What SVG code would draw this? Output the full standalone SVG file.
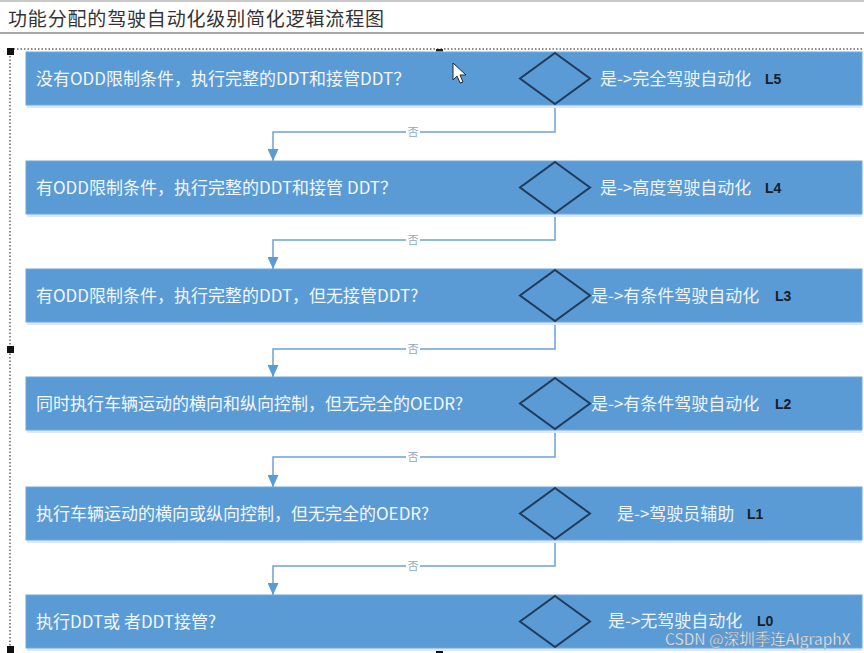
<svg xmlns="http://www.w3.org/2000/svg" width="864" height="653" viewBox="0 0 864 653">
<defs>
<style>
.bar{fill:#5b9bd5;stroke:#6fa8dc;stroke-width:1}
.sh{fill:#dce8f4}
.dia{fill:#5b9bd5;stroke:#1f3b5b;stroke-width:2}
.q{font-family:"Noto Sans CJK SC","Noto Sans",sans-serif;font-size:17px;fill:#f2f7fc}
.y{font-family:"Noto Sans CJK SC","Noto Sans",sans-serif;font-size:17px;fill:#eef4fa}
.lv{font-family:"Liberation Sans","Noto Sans",sans-serif;font-size:14px;font-weight:bold;fill:#14202c}
.no{font-family:"Noto Sans CJK SC",sans-serif;font-size:11px;fill:#8fa9c0}
.con{fill:none;stroke:#6ea3d6;stroke-width:1.5}
.h{fill:#111}
</style>
<marker id="ar" markerWidth="12" markerHeight="11" refX="12" refY="5.5" orient="auto" markerUnits="userSpaceOnUse" viewBox="0 0 12 11">
<path d="M0,0 L12,5.5 L0,11 Z" fill="#5b9bd5"/>
</marker>
</defs>
<rect width="864" height="653" fill="#ffffff"/>
<line x1="0" y1="1" x2="864" y2="1" stroke="#c8c8c8" stroke-width="2"/>
<line x1="0" y1="33" x2="864" y2="33" stroke="#a8a8a8" stroke-width="2"/>
<text x="8" y="26" font-family="'Noto Sans CJK SC',sans-serif" font-size="19" fill="#333" textLength="376" lengthAdjust="spacing">功能分配的驾驶自动化级别简化逻辑流程图</text>
<g id="selection">
<line x1="10" y1="49" x2="864" y2="49" stroke="#666" stroke-width="1.5" stroke-dasharray="1.5,2"/>
<line x1="10" y1="49" x2="10" y2="653" stroke="#666" stroke-width="1.5" stroke-dasharray="1.5,2"/>
<rect class="h" x="7" y="48" width="7" height="7"/>
<rect class="h" x="7" y="346" width="7" height="7"/>
<rect class="h" x="7" y="646" width="7" height="7"/>
<rect class="h" x="436" y="647" width="7" height="6"/>
<rect x="436" y="49" width="7" height="6" fill="#b8692a"/>
<rect x="436" y="49" width="7" height="2" fill="#222"/>
</g>
<g id="connectors">
<path class="con" d="M555,105 V132 H273 V161" marker-end="url(#ar)"/>
<path class="con" d="M555,213 V240 H273 V269" marker-end="url(#ar)"/>
<path class="con" d="M555,322 V349 H273 V377" marker-end="url(#ar)"/>
<path class="con" d="M555,430 V457 H273 V487" marker-end="url(#ar)"/>
<path class="con" d="M555,539 V566 H273 V595" marker-end="url(#ar)"/>
<g>
<rect x="406" y="125" width="14" height="14" fill="#fff"/><text class="no" x="413" y="136" text-anchor="middle">否</text>
<rect x="406" y="233" width="14" height="14" fill="#fff"/><text class="no" x="413" y="244" text-anchor="middle">否</text>
<rect x="406" y="342" width="14" height="14" fill="#fff"/><text class="no" x="413" y="353" text-anchor="middle">否</text>
<rect x="406" y="450" width="14" height="14" fill="#fff"/><text class="no" x="413" y="461" text-anchor="middle">否</text>
<rect x="406" y="559" width="14" height="14" fill="#fff"/><text class="no" x="413" y="570" text-anchor="middle">否</text>
</g>
</g>
<g id="n1">
<rect class="sh" x="27" y="105" width="835" height="3"/>
<rect class="bar" x="26" y="52" width="836" height="53"/>
<polygon class="dia" points="555,53 590,78.5 555,104 520,78.5"/>
<text class="q" x="36" y="85">没有ODD限制条件，执行完整的DDT和接管DDT？</text>
<text class="y" x="600" y="85">是-&gt;完全驾驶自动化</text>
<text class="lv" x="765" y="84">L5</text>
</g>
<g id="n2">
<rect class="sh" x="27" y="214" width="835" height="3"/>
<rect class="bar" x="26" y="161" width="836" height="53"/>
<polygon class="dia" points="555,162 590,187.5 555,213 520,187.5"/>
<text class="q" x="36" y="194">有ODD限制条件，执行完整的DDT和接管 DDT？</text>
<text class="y" x="600" y="194">是-&gt;高度驾驶自动化</text>
<text class="lv" x="765" y="193">L4</text>
</g>
<g id="n3">
<rect class="sh" x="27" y="322" width="835" height="3"/>
<rect class="bar" x="26" y="269" width="836" height="53"/>
<polygon class="dia" points="555,270 590,295.5 555,321 520,295.5"/>
<text class="q" x="36" y="302">有ODD限制条件，执行完整的DDT，但无接管DDT?</text>
<text class="y" x="591" y="302">是-&gt;有条件驾驶自动化</text>
<text class="lv" x="775" y="301">L3</text>
</g>
<g id="n4">
<rect class="sh" x="27" y="430" width="835" height="3"/>
<rect class="bar" x="26" y="377" width="836" height="53"/>
<polygon class="dia" points="555,378 590,403.5 555,429 520,403.5"/>
<text class="q" x="36" y="410">同时执行车辆运动的横向和纵向控制，但无完全的OEDR?</text>
<text class="y" x="591" y="410">是-&gt;有条件驾驶自动化</text>
<text class="lv" x="775" y="409">L2</text>
</g>
<g id="n5">
<rect class="sh" x="27" y="540" width="835" height="3"/>
<rect class="bar" x="26" y="487" width="836" height="53"/>
<polygon class="dia" points="555,488 590,513.5 555,539 520,513.5"/>
<text class="q" x="36" y="520">执行车辆运动的横向或纵向控制，但无完全的OEDR?</text>
<text class="y" x="617" y="520">是-&gt;驾驶员辅助</text>
<text class="lv" x="747" y="519">L1</text>
</g>
<g id="n6">
<rect class="sh" x="27" y="648" width="835" height="3"/>
<rect class="bar" x="26" y="595" width="836" height="53"/>
<polygon class="dia" points="555,596 590,621.5 555,647 520,621.5"/>
<text class="q" x="36" y="628">执行DDT或 者DDT接管?</text>
<text class="y" x="608" y="627">是-&gt;无驾驶自动化</text>
<text class="lv" x="757" y="626">L0</text>
</g>
<text x="665" y="645" font-family="'Noto Sans CJK SC','Noto Sans',sans-serif" font-size="15.5" fill="#f4f6f8" stroke="#7a8a99" stroke-width="0.4">CSDN @深圳季连AIgraphX</text>
<path d="M453,63 L453,80 L457,76 L460,83 L463,82 L460,75 L466,75 Z" fill="#fff" stroke="#1a2a3a" stroke-width="1"/>
</svg>
